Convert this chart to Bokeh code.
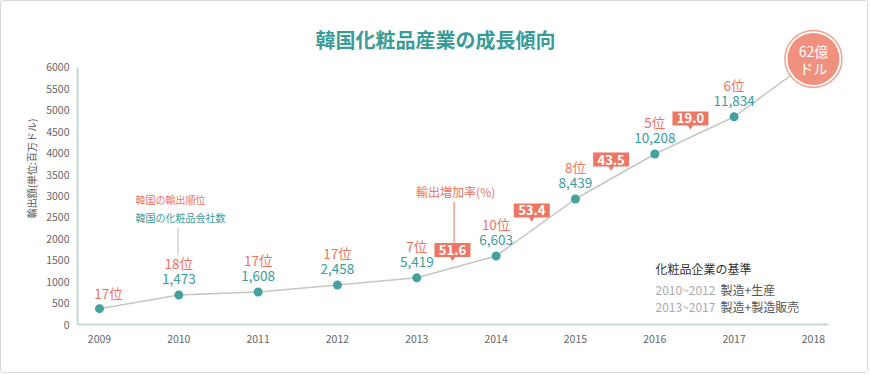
from bokeh.plotting import figure
from bokeh.models import FixedTicker, Range1d, ColumnDataSource
from bokeh.core.properties import value
from bokeh.embed import file_html
from bokeh.resources import INLINE

# ---- data ----
years = [2009, 2010, 2011, 2012, 2013, 2014, 2015, 2016, 2017, 2018]
exports = [370, 690, 760, 920, 1090, 1600, 2930, 3980, 4850, 6200]   # 百万ドル
rank_labels = ["17位", "18位", "17位", "17位", "7位", "10位", "8位", "5位", "6位"]
company_labels = ["", "1,473", "1,608", "2,458", "5,419", "6,603", "8,439", "10,208", "11,834"]
growth_labels = ["51.6", "53.4", "43.5", "19.0"]
growth_from = [2013, 2014, 2015, 2016]
y_ticks = [0, 500, 1000, 1500, 2000, 2500, 3000, 3500, 4000, 4500, 5000, 5500, 6000]
x_ticks = years
total_text = ["62億", "ドル"]

FONT = "Noto Sans CJK JP"
TEAL = "#3A9C98"
CORAL = "#EE735E"
BOX = "#EE7763"

PY = 6000 / 257.0      # data units per pixel (y)
PX = 1 / 79.33         # years per pixel (x)

p = figure(width=868, height=373, output_backend="svg", toolbar_location=None,
           x_range=Range1d(2008.723, 2018.568), y_range=Range1d(0, 7284),
           min_border_left=76, min_border_right=11, min_border_top=11, min_border_bottom=50)
p.styles = {"border": "1px solid #dadada", "border-radius": "3px"}
p.outline_line_color = None
p.xgrid.grid_line_color = None
p.ygrid.grid_line_color = None
p.background_fill_color = "white"
p.border_fill_color = "white"

# axes
p.xaxis.ticker = FixedTicker(ticks=x_ticks)
p.yaxis.ticker = FixedTicker(ticks=y_ticks)
p.xaxis.bounds = (2008.723, 2018.19)
p.yaxis.bounds = (0, 6000)
for ax in (p.xaxis, p.yaxis):
    ax.axis_line_color = "#C3D9DB"
    ax.axis_line_width = 2
    ax.major_tick_line_color = None
    ax.minor_tick_line_color = None
    ax.major_label_text_font = FONT
    ax.major_label_text_font_size = "10.5px"
    ax.major_label_text_color = "#666666"
p.xaxis.major_label_standoff = 4
p.yaxis.major_label_standoff = 2
p.yaxis.axis_label = "輸出額(単位:百万ドル)"
p.yaxis.axis_label_text_font = FONT
p.yaxis.axis_label_text_font_size = "10px"
p.yaxis.axis_label_text_font_style = "normal"
p.yaxis.axis_label_text_color = "#555555"
p.yaxis.axis_label_standoff = 4

# title
p.text(x=[2013.236], y=[6654], text=["韓国化粧品産業の成長傾向"], text_font=value(FONT),
       text_font_size="20px", text_font_style="bold", text_color=TEAL,
       text_align="center", text_baseline="middle")

# line + points
p.line(years, exports, line_color="#C6C6C0", line_width=1.5)
p.scatter(years[:-1], exports[:-1], size=9, fill_color="#45A19D", line_color=None)

# rank and company labels (rank sits lower where no company count is shown)
xo = [9 if c == "" else 0 for c in company_labels]
ro = [-16 if c == "" else -32 for c in company_labels]
src = ColumnDataSource(dict(x=years[:-1], y=exports[:-1], r=rank_labels, c=company_labels, xo=xo, ro=ro))
p.text(x="x", y="y", text="r", source=src, x_offset="xo", y_offset="ro", text_font=value(FONT),
       text_font_size="13.5px", text_color=CORAL, text_align="center", text_baseline="middle")
p.text(x="x", y="y", text="c", source=src, y_offset=-16, text_font=value(FONT),
       text_font_size="13.5px", text_color=TEAL, text_align="center", text_baseline="middle")

# growth rate boxes
gi = [years.index(y) for y in growth_from]
gx = [(years[i] + years[i + 1]) / 2 - 4 * PX for i in gi]
gy = [(exports[i] + exports[i + 1]) / 2 + 17 * PY for i in gi]
p.rect(x=gx, y=gy, width=36, height=14, width_units="screen", height_units="screen",
       fill_color=BOX, line_color=None)
p.scatter(x=gx, y=[v - 8 * PY for v in gy], marker="inverted_triangle", size=6,
          fill_color=BOX, line_color=None)
p.text(x=gx, y=gy, text=growth_labels, text_font=value(FONT), text_font_size="13px",
       text_font_style="bold", text_color="white", text_align="center", text_baseline="middle")

# annotation: growth rate caption
p.text(x=[2013.49], y=[3105], text=["輸出増加率(%)"], text_font=value(FONT), text_font_size="12px",
       text_color=CORAL, text_align="center", text_baseline="middle")
p.segment(x0=[2013.47], y0=[2870], x1=[2013.47], y1=[gy[0] + 7 * PY], line_color=CORAL, line_width=1)

# annotation: legend of label types
p.text(x=[2009.454], y=[2918], text=["韓国の輸出順位"], text_font=value(FONT), text_font_size="10px",
       text_color=CORAL, text_align="left", text_baseline="middle")
p.text(x=[2009.454], y=[2498], text=["韓国の化粧品会社数"], text_font=value(FONT), text_font_size="10px",
       text_color=TEAL, text_align="left", text_baseline="middle")
p.segment(x0=[2009.99], y0=[2265], x1=[2009.99], y1=[1620], line_color="#BBBBBB", line_width=1)

# 2018 bubble
p.scatter(x=[years[-1]], y=[exports[-1]], size=57, fill_color="white", line_color="#F2A090", line_width=1.5)
p.scatter(x=[years[-1]], y=[exports[-1]], size=52, fill_color="#F0907E", line_color=None)
p.text(x=[years[-1]] * 2, y=[exports[-1]] * 2, text=total_text, y_offset=[-8, 9], text_font=value(FONT),
       text_font_size="14px", text_color="white", text_align="center", text_baseline="middle")

# criteria box
p.text(x=[2016.009], y=[1307], text=["化粧品企業の基準"], text_font=value(FONT), text_font_size="12px",
       text_color="#333333", text_align="left", text_baseline="middle")
p.text(x=[2016.009, 2016.009], y=[817, 420], text=["2010~2012", "2013~2017"], text_font=value(FONT),
       text_font_size="12px", text_color="#AAAAAA", text_align="left", text_baseline="middle")
p.text(x=[2016.828, 2016.828], y=[817, 420], text=["製造+生産", "製造+製造販売"], text_font=value(FONT),
       text_font_size="12px", text_color="#555555", text_align="left", text_baseline="middle")

open("out.html", "w").write(file_html(p, INLINE))
